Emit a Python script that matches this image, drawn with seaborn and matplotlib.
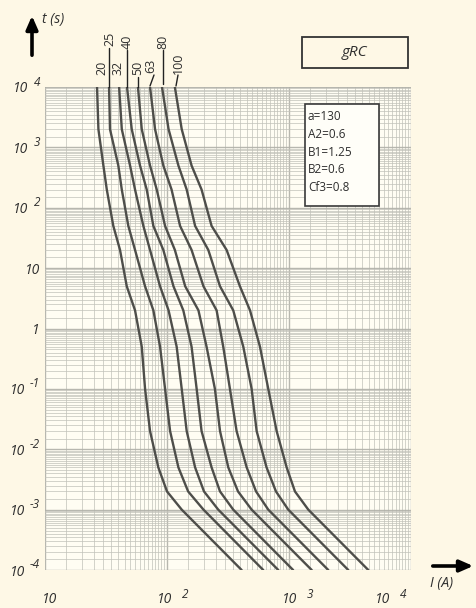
import numpy as np
import pandas as pd
import matplotlib
matplotlib.use("Agg")
import matplotlib.pyplot as plt
import matplotlib.ticker as mticker
import matplotlib.transforms as mtransforms
from matplotlib.patches import Rectangle
import seaborn as sns

# ---------------- data ----------------
ratings = [20, 25, 32, 40, 50, 63, 80, 100]
times = [1e4, 2000, 500, 200, 50, 20, 5, 2, 0.5, 0.1, 0.02, 0.005, 0.002, 0.001, 1e-4]
i_20 = [26.7, 27.4, 30.1, 32.1, 36.3, 41.2, 46.8, 54.7, 62.1, 66.1, 72.6, 84.9, 100, 132, 409]
i_25 = [33.5, 34.1, 39.9, 42.6, 48.2, 54.7, 66.1, 77.3, 87.7, 96.4, 106, 124, 149, 199, 615]
i_32 = [40.5, 42.6, 49.8, 54.7, 64.0, 72.6, 87.7, 103, 120, 132, 145, 170, 201, 263, 817]
i_40 = [47.0, 51.4, 60.1, 68.2, 77.3, 93.3, 113, 136, 159, 175, 192, 232, 272, 349, 1081]
i_50 = [57.8, 62.1, 72.6, 82.4, 96.4, 116, 141, 181, 211, 247, 272, 318, 382, 494, 1535]
i_63 = [72.6, 79.8, 93.3, 109, 128, 159, 199, 255, 289, 328, 372, 450, 537, 676, 2099]
i_80 = [91.0, 103, 124, 145, 170, 218, 272, 349, 422, 494, 543, 655, 782, 986, 3062]
i_100 = [116, 132, 159, 192, 232, 308, 396, 479, 578, 676, 792, 957, 1119, 1439, 4467]
currents = [i_20, i_25, i_32, i_40, i_50, i_63, i_80, i_100]

x_ticks = [10, 100, 1000, 10000]
x_base = ['10', '10', '10', '10']
x_exp = ['', '2', '3', '4']
y_ticks = [1e4, 1e3, 1e2, 10, 1, 0.1, 0.01, 1e-3, 1e-4]
y_base = ['10', '10', '10', '10', '1', '10', '10', '10', '10']
y_exp = ['4', '3', '2', '', '', '-1', '-2', '-3', '-4']
params = ["a=130", "A2=0.6", "B1=1.25", "B2=0.6", "Cf3=0.8"]
title_box = "gRC"

# ---------------- style ----------------
sns.set_style("white")
plt.rcParams['font.family'] = ['Open Sans', 'DejaVu Sans']

W, H = 476, 608
BG = '#FEF8E6'
AXBG = '#FFFDF3'
TXT = '#2E2E2E'
CURVE = '#4E4E4A'

fig = plt.figure(figsize=(W / 100, H / 100), dpi=100, facecolor=BG)
ax = fig.add_axes([45 / W, 1 - 570 / H, 366 / W, 483 / H])
ax.set_facecolor(AXBG)
ax.set_xscale('log')
ax.set_yscale('log')
ax.set_xlim(10, 1e4)
ax.set_ylim(1e-4, 1e4)

# log paper grid
ax.xaxis.set_minor_locator(mticker.LogLocator(base=10, subs=np.arange(1.5, 10, 0.5), numticks=50))
ax.yaxis.set_minor_locator(mticker.LogLocator(base=10, subs=np.arange(1.5, 10, 0.5), numticks=50))
ax.xaxis.set_minor_formatter(mticker.NullFormatter())
ax.yaxis.set_minor_formatter(mticker.NullFormatter())
ax.grid(True, which='minor', color='#C2C2BA', lw=0.6, alpha=0.85)
ax.grid(True, which='major', color='#B0B0A8', lw=1.0, alpha=0.9)
for s in ax.spines.values():
    s.set_visible(False)
ax.tick_params(which='both', length=0)
ax.set_axisbelow(True)

# curves
rows = []
for r, cur in zip(ratings, currents):
    for t, i in zip(times, cur):
        rows.append({'rating': r, 'I': i, 't': t})
df = pd.DataFrame(rows)
sns.lineplot(data=df, x='I', y='t', hue='rating', palette=[CURVE] * len(ratings),
             estimator=None, sort=False, legend=False, lw=1.7, ax=ax)
ax.set_xlabel('')
ax.set_ylabel('')

# ticks: base "10" as tick labels, exponents as raised text
ax.set_xticks(x_ticks)
ax.set_xticklabels(x_base, fontsize=10, color=TXT, style='italic')
ax.set_yticks(y_ticks)
ax.set_yticklabels(y_base, fontsize=10, color=TXT, style='italic')
ax.tick_params(axis='x', which='major', pad=16)
ax.tick_params(axis='y', which='major', pad=3.6)

def px_shift(dx, dy=0):
    return mtransforms.ScaledTranslation(dx / 100, dy / 100, fig.dpi_scale_trans)

x_shifts = [5, -2, 1, -28]
for lab, dx in zip(ax.get_xticklabels(), x_shifts):
    lab.set_transform(lab.get_transform() + px_shift(dx))

xtrans = ax.get_xaxis_transform()
for xv, e, dx in zip(x_ticks, x_exp, x_shifts):
    if e:
        ax.text(xv, 0, e, transform=xtrans + px_shift(dx + 17, -24), fontsize=8.5,
                style='italic', ha='left', va='center', color=TXT, clip_on=False)

fig.canvas.draw()
renderer = fig.canvas.get_renderer()
ytrans = ax.get_yaxis_transform()
for lab, yv, e in zip(ax.get_yticklabels(), y_ticks, y_exp):
    if e:
        et = ax.text(0, yv, e, transform=ytrans + px_shift(-5, 5), fontsize=8.5,
                     style='italic', ha='right', va='center', color=TXT, clip_on=False)
        w = et.get_window_extent(renderer).width
        lab.set_transform(lab.get_transform() + px_shift(-(w + 5)))

def fp(x, y):
    return (x / W, 1 - y / H)

# rating labels with leader lines
lab_pos = {20: (102, 75), 25: (110, 46), 32: (118, 75), 40: (127.5, 49),
           50: (137.5, 75), 63: (151, 73), 80: (163, 49), 100: (178, 74)}
leaders = {25: ((109, 48), (109, 87)), 40: ((127, 50), (127, 87)),
           50: ((138, 77), (138, 87)), 63: ((154, 75), (150, 86)),
           80: ((163, 50), (163, 84)), 100: ((178, 75), (176, 86))}
for r in ratings:
    x, y = lab_pos[r]
    fig.text(*fp(x, y), str(r), rotation=90, ha='center', va='bottom',
             fontsize=9, color=TXT)
    if r in leaders:
        (x0, y0), (x1, y1) = leaders[r]
        fig.add_artist(plt.Line2D([x0 / W, x1 / W], [1 - y0 / H, 1 - y1 / H],
                                  color='#222222', lw=1.0, transform=fig.transFigure))

# axis arrows and names
ax.annotate('', xy=fp(32, 13), xytext=fp(32, 58), xycoords='figure fraction',
            textcoords='figure fraction',
            arrowprops=dict(arrowstyle='-|>,head_length=0.8,head_width=0.35', lw=2.6, color='black'))
fig.text(*fp(42, 20), 't (s)', fontsize=10, style='italic', ha='left', va='center', color=TXT)
ax.annotate('', xy=fp(476, 566), xytext=fp(430, 566), xycoords='figure fraction',
            textcoords='figure fraction',
            arrowprops=dict(arrowstyle='-|>,head_length=0.8,head_width=0.35', lw=2.6, color='black'))
fig.text(*fp(430, 584), 'I (A)', fontsize=10, style='italic', ha='left', va='center', color=TXT)

# gRC box
fig.add_artist(Rectangle(fp(302, 68), 106 / W, 31 / H, transform=fig.transFigure,
                         facecolor='none', edgecolor='#333333', lw=1.3))
fig.text(*fp(355, 52), title_box, fontsize=11, style='italic', ha='center', va='center', color=TXT)

# parameter box
fig.add_artist(Rectangle(fp(305, 206), 74 / W, 102 / H, transform=fig.transFigure,
                         facecolor='#FFFEF8', edgecolor='#3A3A3A', lw=1.2, zorder=5))
for k, p in enumerate(params):
    fig.text(*fp(308, 117 + 17.5 * k), p, fontsize=8.5, ha='left', va='center', color=TXT, zorder=6)

fig.savefig('out.png', dpi=100, facecolor=BG)
